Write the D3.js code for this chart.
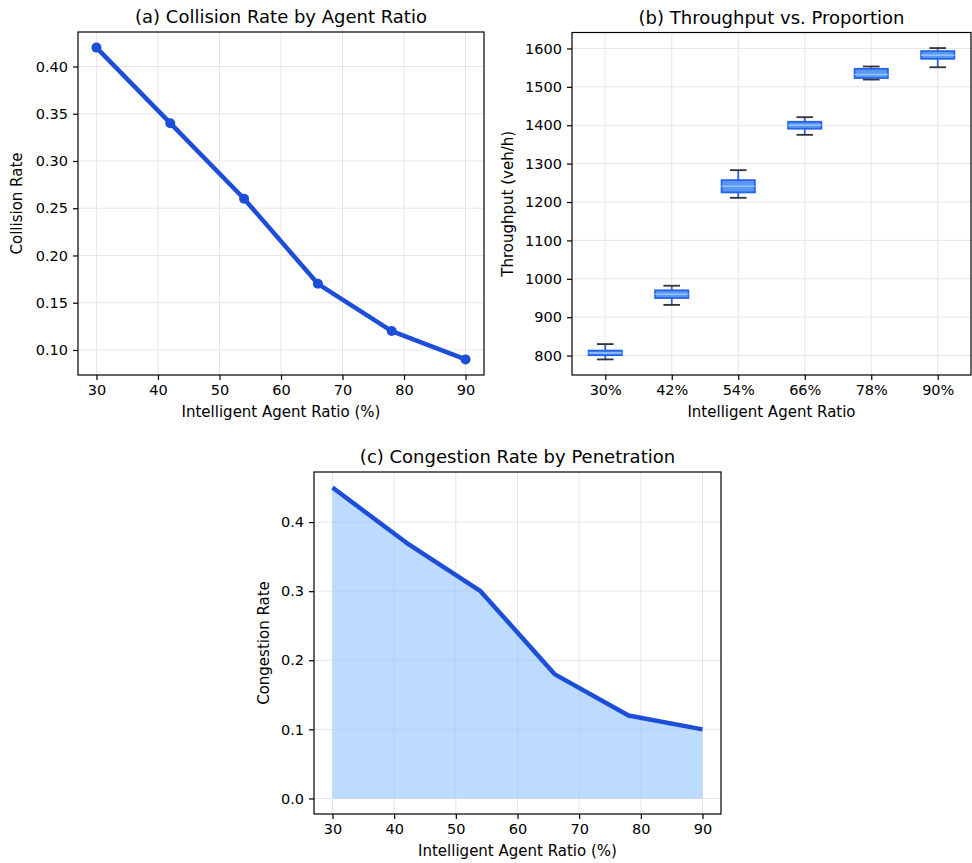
<!DOCTYPE html>
<html lang="en">
<head>
    <meta charset="UTF-8">
    <title>Agent ratio panels</title>
    <script src="https://d3js.org/d3.v7.min.js"></script>
    <style>
        * { margin: 0; padding: 0; box-sizing: border-box; }
        body { background: #fff; font-family: "DejaVu Sans", sans-serif; }
        svg text { fill: #000; }
    </style>
</head>
<body>
    <div id="chart"></div>
    <script>
        // values
        const ratios = [30, 42, 54, 66, 78, 90];
        const collisionRate = [0.42, 0.34, 0.26, 0.17, 0.12, 0.09];
        const congestionRate = [0.45, 0.37, 0.30, 0.18, 0.12, 0.10];

        const ratioLabels = ["30%", "42%", "54%", "66%", "78%", "90%"];
        const tpLow = [790, 932, 1211, 1375, 1519, 1551];
        const tpQ1 = [801, 950, 1225, 1391, 1523, 1573];
        const tpMedian = [807, 960, 1241, 1400, 1532, 1582];
        const tpQ3 = [813, 970, 1257, 1409, 1547, 1593];
        const tpHigh = [830, 982, 1283, 1421, 1553, 1601];

        const xTicks = [30, 40, 50, 60, 70, 80, 90];
        const collisionTicks = [0.10, 0.15, 0.20, 0.25, 0.30, 0.35, 0.40];
        const throughputTicks = [800, 900, 1000, 1100, 1200, 1300, 1400, 1500, 1600];
        const congestionTicks = [0.0, 0.1, 0.2, 0.3, 0.4];

        const W = 972, H = 863;
        const lineBlue = "#1d4ed8";
        const gridColor = "#e6e6e6";

        const svg = d3.select("#chart").append("svg")
            .attr("width", W)
            .attr("height", H);

        // matplotlib style 5% padding
        function pad(ext) {
            const m = (ext[1] - ext[0]) * 0.05;
            return [ext[0] - m, ext[1] + m];
        }

        function panel(box, title, xlabel, ylabel) {
            const g = svg.append("g").attr("transform", `translate(${box.left},${box.top})`);
            const w = box.right - box.left, h = box.bottom - box.top;
            g.append("text")
                .attr("x", w / 2).attr("y", -9)
                .attr("text-anchor", "middle")
                .style("font-size", "18px")
                .text(title);
            g.append("text")
                .attr("x", w / 2).attr("y", h + 42)
                .attr("text-anchor", "middle")
                .style("font-size", "15px")
                .text(xlabel);
            g.append("text")
                .attr("transform", `translate(${box.ylab},${h / 2}) rotate(-90)`)
                .attr("text-anchor", "middle")
                .style("font-size", "15px")
                .text(ylabel);
            return { g, w, h };
        }

        function axes(p, x, y, xt, yt, xfmt, yfmt) {
            // grid
            p.g.append("g").selectAll("line").data(xt).join("line")
                .attr("x1", d => x(d)).attr("x2", d => x(d))
                .attr("y1", 0).attr("y2", p.h)
                .attr("stroke", gridColor).attr("stroke-width", 1);
            p.g.append("g").selectAll("line").data(yt).join("line")
                .attr("x1", 0).attr("x2", p.w)
                .attr("y1", d => y(d)).attr("y2", d => y(d))
                .attr("stroke", gridColor).attr("stroke-width", 1);
        }

        function frame(p, x, y, xt, yt, xfmt, yfmt) {
            const xa = p.g.append("g")
                .attr("transform", `translate(0,${p.h})`)
                .call(d3.axisBottom(x).tickValues(xt).tickFormat(xfmt).tickSize(5).tickPadding(5));
            const ya = p.g.append("g")
                .call(d3.axisLeft(y).tickValues(yt).tickFormat(yfmt).tickSize(5).tickPadding(5));
            [xa, ya].forEach(a => {
                a.select(".domain").remove();
                a.selectAll("line").attr("stroke", "#000").attr("stroke-width", 1.2);
                a.selectAll("text").style("font-size", "14.5px")
                    .style("font-family", "DejaVu Sans, sans-serif").attr("fill", "#000");
            });
            p.g.append("rect")
                .attr("width", p.w).attr("height", p.h)
                .attr("fill", "none").attr("stroke", "#000").attr("stroke-width", 1.2);
        }

        // (a) line with markers
        {
            const p = panel({ left: 78, right: 484, top: 32, bottom: 375, ylab: -56 },
                "(a) Collision Rate by Agent Ratio", "Intelligent Agent Ratio (%)", "Collision Rate");
            const x = d3.scaleLinear().domain(pad(d3.extent(ratios))).range([0, p.w]);
            const y = d3.scaleLinear().domain(pad(d3.extent(collisionRate))).range([p.h, 0]);
            axes(p, x, y, xTicks, collisionTicks);
            const pts = ratios.map((r, i) => [r, collisionRate[i]]);
            p.g.append("path")
                .datum(pts)
                .attr("d", d3.line().x(d => x(d[0])).y(d => y(d[1])))
                .attr("fill", "none").attr("stroke", lineBlue)
                .attr("stroke-width", 4.5).attr("stroke-linejoin", "round");
            p.g.selectAll(".dot").data(pts).join("circle")
                .attr("cx", d => x(d[0])).attr("cy", d => y(d[1]))
                .attr("r", 5).attr("fill", lineBlue);
            frame(p, x, y, xTicks, collisionTicks, d3.format("d"), d3.format(".2f"));
        }

        // (b) boxplots
        {
            const p = panel({ left: 572, right: 971, top: 32.5, bottom: 375, ylab: -59 },
                "(b) Throughput vs. Proportion", "Intelligent Agent Ratio", "Throughput (veh/h)");
            const idx = ratioLabels.map((_, i) => i + 1);
            const x = d3.scaleLinear().domain([0.5, ratioLabels.length + 0.5]).range([0, p.w]);
            const y = d3.scaleLinear()
                .domain(pad([d3.min(tpLow), d3.max(tpHigh)]))
                .range([p.h, 0]);
            axes(p, x, y, idx, throughputTicks);
            const bw = x(1.25) - x(1);
            const cw = x(1.125) - x(1);
            const rows = idx.map((k, i) => ({
                k, lo: tpLow[i], q1: tpQ1[i], med: tpMedian[i], q3: tpQ3[i], hi: tpHigh[i]
            }));
            const bx = p.g.append("g").selectAll("g").data(rows).join("g");
            bx.append("line")
                .attr("x1", d => x(d.k)).attr("x2", d => x(d.k))
                .attr("y1", d => y(d.hi)).attr("y2", d => y(d.q3))
                .attr("stroke", "#2563eb").attr("stroke-width", 1.8);
            bx.append("line")
                .attr("x1", d => x(d.k)).attr("x2", d => x(d.k))
                .attr("y1", d => y(d.q1)).attr("y2", d => y(d.lo))
                .attr("stroke", "#2563eb").attr("stroke-width", 1.8);
            bx.append("line")
                .attr("x1", d => x(d.k) - cw).attr("x2", d => x(d.k) + cw)
                .attr("y1", d => y(d.hi)).attr("y2", d => y(d.hi))
                .attr("stroke", "#333").attr("stroke-width", 1.8);
            bx.append("line")
                .attr("x1", d => x(d.k) - cw).attr("x2", d => x(d.k) + cw)
                .attr("y1", d => y(d.lo)).attr("y2", d => y(d.lo))
                .attr("stroke", "#333").attr("stroke-width", 1.8);
            bx.append("rect")
                .attr("x", d => x(d.k) - bw).attr("width", 2 * bw)
                .attr("y", d => y(d.q3)).attr("height", d => y(d.q1) - y(d.q3))
                .attr("fill", "#5b97f5").attr("stroke", "#2563eb").attr("stroke-width", 1.8);
            bx.append("line")
                .attr("x1", d => x(d.k) - bw).attr("x2", d => x(d.k) + bw)
                .attr("y1", d => y(d.med)).attr("y2", d => y(d.med))
                .attr("stroke", "#93c5fd").attr("stroke-width", 1.5);
            frame(p, x, y, idx, throughputTicks, (d, i) => ratioLabels[i], d3.format("d"));
        }

        // (c) filled area
        {
            const p = panel({ left: 314, right: 721, top: 472, bottom: 814, ylab: -45 },
                "(c) Congestion Rate by Penetration", "Intelligent Agent Ratio (%)", "Congestion Rate");
            const x = d3.scaleLinear().domain(pad(d3.extent(ratios))).range([0, p.w]);
            const y = d3.scaleLinear().domain(pad([0, d3.max(congestionRate)])).range([p.h, 0]);
            axes(p, x, y, xTicks, congestionTicks);
            const pts = ratios.map((r, i) => [r, congestionRate[i]]);
            p.g.append("path")
                .datum(pts)
                .attr("d", d3.area().x(d => x(d[0])).y0(y(0)).y1(d => y(d[1])))
                .attr("fill", "#93c5fd").attr("fill-opacity", 0.62);
            p.g.append("path")
                .datum(pts)
                .attr("d", d3.line().x(d => x(d[0])).y(d => y(d[1])))
                .attr("fill", "none").attr("stroke", lineBlue)
                .attr("stroke-width", 4.5).attr("stroke-linejoin", "round");
            frame(p, x, y, xTicks, congestionTicks, d3.format("d"), d3.format(".1f"));
        }
    </script>
</body>
</html>
